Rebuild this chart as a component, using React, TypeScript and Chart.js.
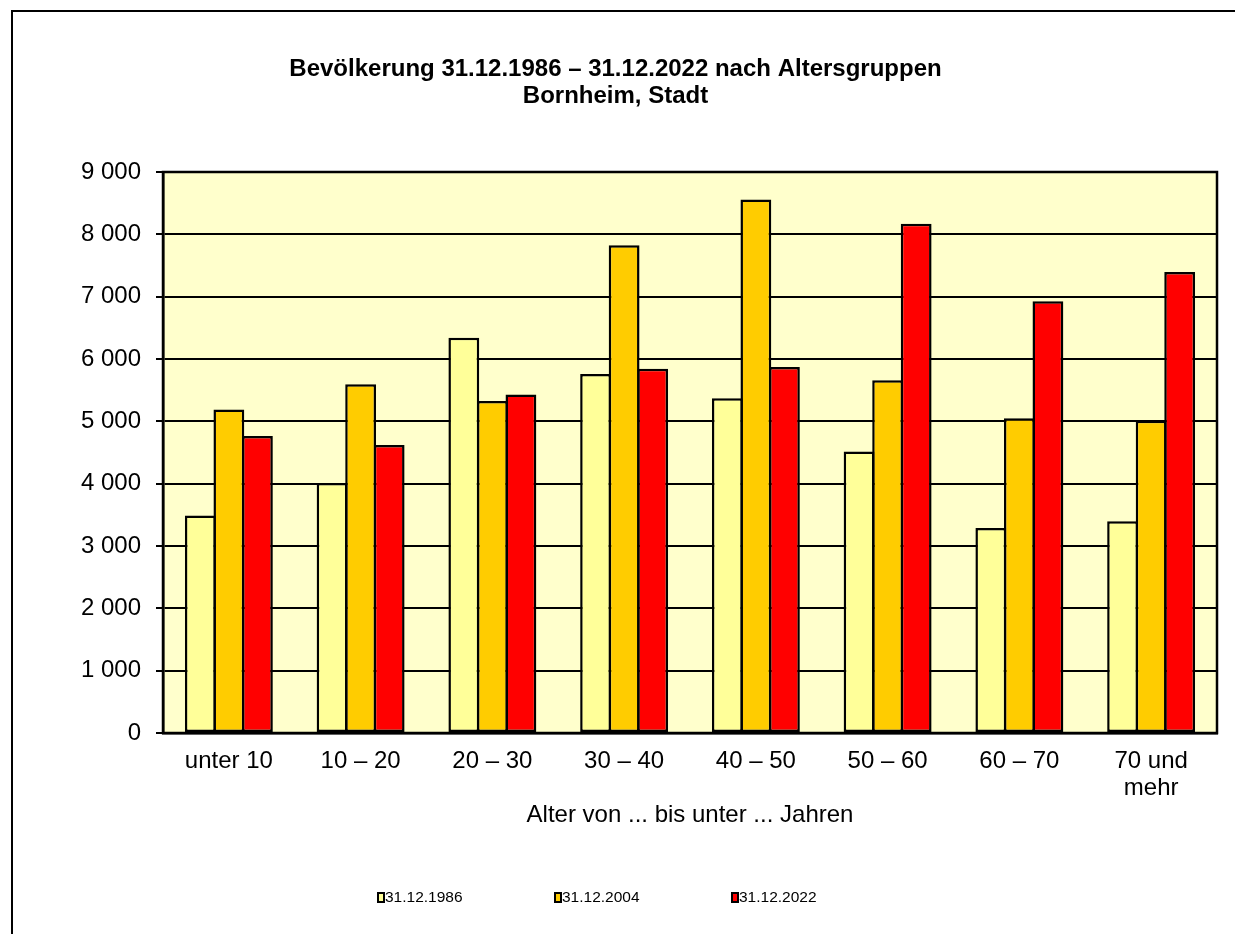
import React, { useEffect, useRef } from "react";
import { Chart, registerables } from "chart.js";

Chart.register(...registerables);

const categories: (string | string[])[] = [
  "unter 10",
  "10 – 20",
  "20 – 30",
  "30 – 40",
  "40 – 50",
  "50 – 60",
  "60 – 70",
  ["70 und", "mehr"],
];
const seriesLabels = ["31.12.1986", "31.12.2004", "31.12.2022"];
const values1986 = [3490, 4010, 6340, 5760, 5370, 4515, 3290, 3398];
const values2004 = [5190, 5595, 5325, 7823, 8560, 5660, 5050, 5010];
const values2022 = [4765, 4620, 5430, 5845, 5870, 8170, 6925, 7395];
const yTickLabels = ["0", "1 000", "2 000", "3 000", "4 000", "5 000", "6 000", "7 000", "8 000", "9 000"];
const titleLines = ["Bevölkerung 31.12.1986 – 31.12.2022 nach Altersgruppen", "Bornheim, Stadt"];
const xAxisTitle = "Alter von ... bis unter ... Jahren";
const seriesColors = ["#FFFF99", "#FFCC00", "#FF0000"];

const FONT = '"Liberation Sans", Arial, Helvetica, sans-serif';

const plotBgPlugin = {
  id: "plotBg",
  beforeDraw(chart: any) {
    const { ctx, chartArea } = chart;
    ctx.save();
    ctx.fillStyle = "#FFFFCC";
    ctx.fillRect(chartArea.left, chartArea.top, chartArea.right - chartArea.left, chartArea.bottom - chartArea.top);
    ctx.restore();
  },
  afterDraw(chart: any) {
    const { ctx, chartArea } = chart;
    ctx.save();
    ctx.strokeStyle = "#000";
    ctx.lineWidth = 2.5;
    ctx.strokeRect(chartArea.left, chartArea.top, chartArea.right - chartArea.left, chartArea.bottom - chartArea.top);
    ctx.restore();
  },
};

const legendPlugin = {
  id: "customLegend",
  afterDraw(chart: any) {
    const { ctx } = chart;
    const ds = chart.data.datasets;
    const centerX = 597;
    const spacing = 177;
    const cy = 898;
    ctx.save();
    ctx.font = `15.5px ${FONT}`;
    ctx.textBaseline = "middle";
    ctx.textAlign = "left";
    ds.forEach((d: any, i: number) => {
      const tw = ctx.measureText(d.label).width;
      const itemW = 8 + tw;
      const x0 = Math.round(centerX + (i - (ds.length - 1) / 2) * spacing - itemW / 2);
      ctx.fillStyle = d.backgroundColor;
      ctx.fillRect(x0, cy - 6, 8, 11);
      ctx.strokeStyle = "#000";
      ctx.lineWidth = 2;
      ctx.strokeRect(x0 + 1, cy - 5, 6, 9);
      ctx.fillStyle = "#000";
      ctx.fillText(d.label, x0 + 8, cy);
    });
    ctx.restore();
  },
};

export default function App() {
  const ref = useRef<HTMLCanvasElement | null>(null);

  useEffect(() => {
    if (!ref.current) return;
    const seriesValues = [values1986, values2004, values2022];
    const chart = new Chart(ref.current, {
      type: "bar",
      data: {
        labels: categories,
        datasets: seriesLabels.map((label, i) => ({
          label,
          data: seriesValues[i],
          backgroundColor: seriesColors[i],
          borderColor: "#000",
          borderWidth: 2.5,
          borderSkipped: false,
          categoryPercentage: 0.65,
          barPercentage: 1.08,
        })),
      },
      options: {
        animation: false,
        responsive: false,
        devicePixelRatio: 1,
        layout: { padding: { top: 0, left: 14, right: 18, bottom: 91 } },
        plugins: {
          legend: { display: false },
          tooltip: { enabled: false },
          title: {
            display: true,
            text: titleLines,
            color: "#000",
            font: { family: FONT, size: 24, weight: "bold", lineHeight: 27 / 24 },
            padding: { top: 56, bottom: 62 },
          },
        },
        scales: {
          x: {
            offset: true,
            grid: { display: false, drawTicks: false },
            border: { display: true, color: "#000", width: 2.5 },
            ticks: {
              color: "#000",
              font: { family: FONT, size: 24, lineHeight: 27 / 24 },
              padding: 15,
              maxRotation: 0,
              minRotation: 0,
              autoSkip: false,
            },
            title: {
              display: true,
              text: xAxisTitle,
              color: "#000",
              font: { family: FONT, size: 24, lineHeight: 27 / 24 },
              padding: { top: 0, bottom: 14 },
            },
            afterFit: (scale: any) => {
              scale.height = 110;
            },
          },
          y: {
            min: 0,
            max: 9000,
            grid: { color: "#000", lineWidth: 2, drawTicks: true, tickLength: 7, tickColor: "#000" },
            border: { display: true, color: "#000", width: 2.5 },
            ticks: {
              stepSize: 1000,
              color: "#000",
              font: { family: FONT, size: 24 },
              padding: 15,
              callback: (_v: any, idx: number) => yTickLabels[idx],
            },
            afterFit: (scale: any) => {
              scale.width = 149;
            },
          },
        },
      },
      plugins: [plotBgPlugin, legendPlugin],
    } as any);
    return () => chart.destroy();
  }, []);

  return (
    <div
      style={{
        position: "fixed",
        left: 0,
        top: 0,
        width: 1235,
        height: 934,
        overflow: "hidden",
        background: "#fff",
      }}
    >
      <div
        style={{
          position: "absolute",
          left: 11,
          top: 10,
          width: 1400,
          height: 1100,
          border: "2px solid #000",
        }}
      />
      <canvas ref={ref} width={1235} height={934} style={{ position: "absolute", left: 0, top: 0 }} />
    </div>
  );
}
